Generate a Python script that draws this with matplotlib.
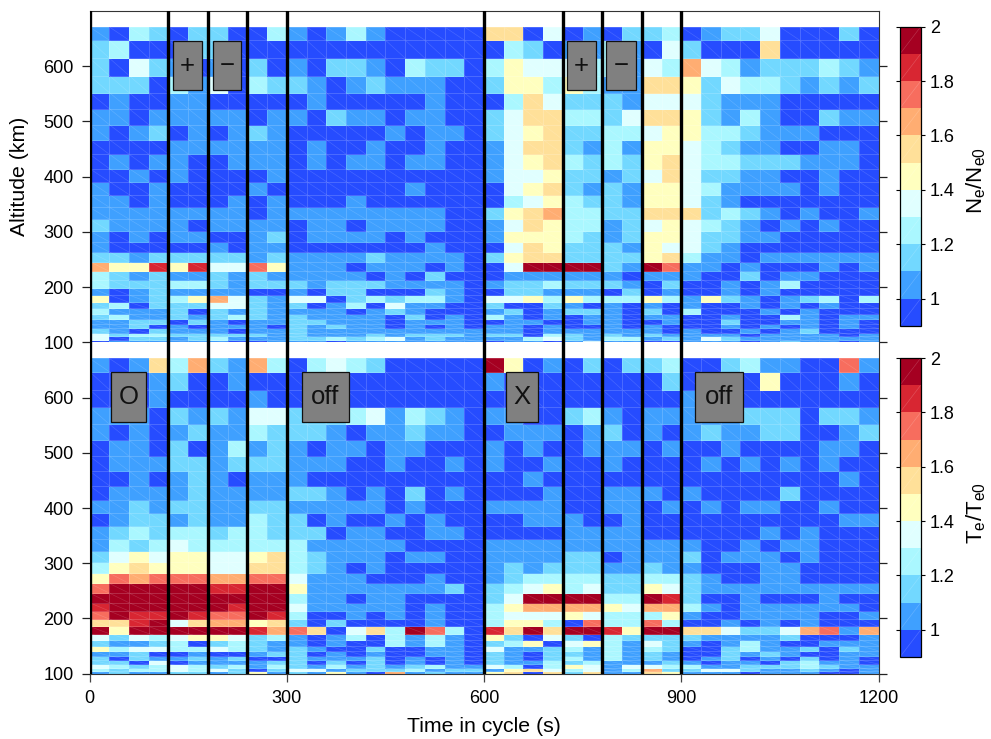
import numpy as np
import matplotlib
matplotlib.use("Agg")
import matplotlib.pyplot as plt
from matplotlib.colors import ListedColormap, BoundaryNorm
from matplotlib.cm import ScalarMappable
from matplotlib.collections import LineCollection
from matplotlib.patches import Rectangle

plt.rcParams['font.family'] = ['Liberation Sans', 'DejaVu Sans']
plt.rcParams['mathtext.fontset'] = 'custom'
plt.rcParams['mathtext.rm'] = 'Liberation Sans'
plt.rcParams['mathtext.it'] = 'Liberation Sans'

# Band index per cell (0: 0.9-1.0 ... A: 1.9-2.0), top row first, 40 columns of 30 s
ne_rows = [
 "10320220031013100000"+"66040102230122400020",
 "23000220000000000000"+"03201131042000600000",
 "20421010201022103220"+"35444331437431222321",
 "22203140322101211100"+"25535311665243321212",
 "01001100000100000100"+"03642221444211100000",
 "11011111011021101100"+"24663324665213100211",
 "10120101210000010110"+"24562233455332111000",
 "00001111110100100100"+"14662131554321100110",
 "01011001110101101100"+"14563232564332221110",
 "00101000010000000000"+"14452212464221100100",
 "10010000100000001000"+"04562121554311110100",
 "11010001010001000000"+"03453221554210000000",
 "11111111011111111100"+"25673322666232101001",
 "21111011110110111100"+"14653312454321010100",
 "10101100120111101000"+"15553212554221100000",
 "10000010110000000100"+"04652221544210000000",
 "22122222121111211110"+"25662222563110111111",
 "75595944851110111010"+"04AAAA21A81101000101",
 "32121121211111010200"+"01111110111002011000",
 "32223321222122211110"+"12232221020010130000",
 "10121111001022000210"+"02211102010010100000",
 "50123574214402323310"+"44535333531521012303",
 "23022244212013041100"+"20021010101001010100",
 "31112021211110121000"+"12012210203000101000",
 "23112123212111102010"+"31010110110010031011",
 "11220210112211101110"+"01100110010020011010",
 "11201011102121101010"+"11010010100010101010",
 "21021110112111111111"+"11011111101001012000",
 "42332222212111212221"+"22032121211110111101",
 "40221231112232341211"+"11342133121421111111",
 "01111110011101111111"+"01101411001110121101",
]
te_rows = [
 "10163721730343200000"+"A5010202230023110081",
 "00012001000000000000"+"10000000020000500010",
 "00010000100000000000"+"00000000001000000000",
 "11102121442223413210"+"11002310111112220221",
 "10101211322210112110"+"01110120101211220012",
 "01102013121011011000"+"10100111010010000110",
 "01112212221110010010"+"10010010000101010100",
 "00101210111000000000"+"00100000000000000010",
 "01111211112210102010"+"00010011101000020000",
 "11212211221111101000"+"11110011010101100100",
 "01221211322010010100"+"00111001000000000011",
 "12323323322201100110"+"00001111000000101000",
 "13234333333111110000"+"11111111111001011000",
 "24545544563211101100"+"11112201112011101000",
 "35655544663210100000"+"12122211211000110000",
 "58788877884111000100"+"12333322332100110000",
 "8AAAAA99AA5111111120"+"23453422542111111111",
 "AAAAAAAAAA3110110000"+"24AAAA33A92001000100",
 "9AAAAAA9AA4111110100"+"35777754773101111110",
 "8A99A988A93001010100"+"34445433351001111001",
 "669A4677562020000100"+"35530833830010101000",
 "A5AAAAAA97860463A830"+"96A6AA95AA6642247817",
 "42434554231013031310"+"52042032222111120001",
 "21123023211010031310"+"23504531421013100111",
 "53443343212100200110"+"41123131320023112021",
 "11200100122010100110"+"21022131210021210011",
 "20211212002111201010"+"21023131210120102010",
 "22040111122020201010"+"21132311121011023110",
 "43234323132131212311"+"43035414433112223211",
 "32334342024412223122"+"15643413722442112101",
 "12112212512151071211"+"56062611651110111001",
]
time_edges = list(range(0, 1230, 30))
alt_edges = [671, 647, 614.5, 583, 552, 523, 494, 467, 440.5, 414.5, 391, 367.5,
             344.5, 323, 301.5, 282, 263.5, 246, 228.5, 213.5, 199, 185.5, 172.5,
             161.5, 151, 141.5, 132.5, 125, 117.5, 111, 105, 100]
level_edges = [0.9, 1.0, 1.1, 1.2, 1.3, 1.4, 1.5, 1.6, 1.7, 1.8, 1.9, 2.0]
colors = ["#264CFF", "#3FA0FF", "#72D8FF", "#AAF7FF", "#E0FFFF", "#FFFFBF",
          "#FFE099", "#FFAD72", "#F76D5E", "#D82632", "#A50021"]
cbar_ticks = [1, 1.2, 1.4, 1.6, 1.8, 2]
cbar_ticklabels = ["1", "1.2", "1.4", "1.6", "1.8", "2"]
alt_ticks = [100, 200, 300, 400, 500, 600]
time_ticks = [0, 300, 600, 900, 1200]
bar_times = [0, 120, 180, 240, 300, 600, 720, 780, 840, 900]
box_y = (556, 646)
top_boxes = [(127, 171, "+"), (187, 231, "\u2212"), (726.5, 770.5, "+"), (786, 830.5, "\u2212")]
bottom_boxes = [(32, 86, "O"), (322.5, 395, "off"), (634, 682.5, "X"), (921.5, 994.5, "off")]

W, H = 991, 739
cmap = ListedColormap(colors)
norm = BoundaryNorm(level_edges, cmap.N)

def to_values(rows):
    return np.array([[level_edges[int(c, 16)] + 0.05 for c in r] for r in rows])

def px_axes(x0, x1, ytop, ybot):
    return fig.add_axes([x0 / W, 1 - ybot / H, (x1 - x0) / W, (ybot - ytop) / H])

def sheen(ax, xs, ys, alpha=0.16):
    segs = []
    for i in range(len(xs) - 1):
        for j in range(len(ys) - 1):
            segs.append([(xs[i], ys[j + 1]), (xs[i + 1], ys[j])])
    ax.add_collection(LineCollection(segs, colors="white", linewidths=0.45, alpha=alpha))

fig = plt.figure(figsize=(W / 100, H / 100), dpi=100)
ax1 = px_axes(89.6, 878.5, 10.9, 342.3)
ax2 = px_axes(89.6, 878.5, 342.4, 673.7)

for ax, rows, boxes in ((ax1, ne_rows, top_boxes), (ax2, te_rows, bottom_boxes)):
    ys = np.array(alt_edges)[::-1]
    vals = to_values(rows)[::-1]
    ax.pcolormesh(time_edges, ys, vals, cmap=cmap, norm=norm,
                  edgecolors=(1, 1, 1, 0.17), linewidth=0.5)
    sheen(ax, time_edges, ys)
    ax.set_xlim(0, 1200)
    ax.set_ylim(100, 700)
    for t in bar_times:
        ax.axvline(t, color="black", lw=2.4, zorder=3)
    for x0, x1, label in boxes:
        ax.add_patch(Rectangle((x0, box_y[0]), x1 - x0, box_y[1] - box_y[0], facecolor="#808080",
                               edgecolor="#111111", lw=0.9, zorder=4))
        ax.text((x0 + x1) / 2, sum(box_y) / 2, label, ha="center", va="center",
                fontsize=18.5, color="#111111", zorder=5)
    ax.set_yticks(alt_ticks)
    ax.tick_params(axis="y", left=True, right=True, length=5.6, width=0.9,
                   labelsize=13, direction="out", pad=6, color="#222222")
    for s in ax.spines.values():
        s.set_linewidth(0.8)
        s.set_color("#333333")

ax1.set_xticks([])
ax1.spines["bottom"].set_color("#2a3fd0")
ax2.spines["top"].set_visible(False)
ax2.set_xticks(time_ticks)
ax2.tick_params(axis="x", length=5.8, width=0.9, labelsize=13, pad=6, color="#444444")
fig.text(484 / W, 1 - 731.7 / H, "Time in cycle (s)", fontsize=15.3, ha="center", va="baseline")
fig.text(20 / W, 1 - 176 / H, "Altitude (km)", rotation=90, fontsize=15.3, ha="center", va="center")

for ytop, ybot, lab, yc in ((26.7, 325.7, r"$\mathrm{N_e/N_{e0}}$", 181),
                            (358, 657, r"$\mathrm{T_e/T_{e0}}$", 513)):
    cax = px_axes(900, 920.7, ytop, ybot)
    cb = fig.colorbar(ScalarMappable(norm=norm, cmap=cmap), cax=cax, spacing="proportional",
                      ticks=cbar_ticks, drawedges=False)
    cb.ax.set_yticklabels(cbar_ticklabels)
    cb.minorticks_off()
    cax.tick_params(axis="y", left=True, right=True, length=2.6, width=0.8, labelsize=13, pad=4)
    cb.outline.set_linewidth(0.9)
    segs = [[(0, level_edges[i]), (1, level_edges[i + 1])] for i in range(len(level_edges) - 1)]
    cax.add_collection(LineCollection(segs, colors="white", linewidths=0.45, alpha=0.2,
                                      transform=cax.get_yaxis_transform()))
    fig.text(976 / W, 1 - yc / H, lab, rotation=90, fontsize=16, ha="center", va="center")

fig.savefig("out.png", dpi=100)
